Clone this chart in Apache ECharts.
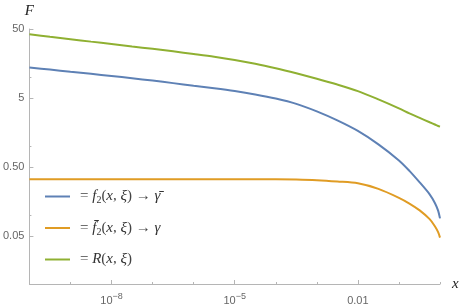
<!DOCTYPE html>
<html><head><meta charset="utf-8">
<script src="https://cdn.jsdelivr.net/npm/echarts@6/dist/echarts.min.js"></script>
<style>html,body{margin:0;padding:0;background:#fff}#c{width:463px;height:308px}</style>
</head><body><div id="c"></div>
<script>
// ---- data ----
const xValues = [1e-10, 3.16e-10, 1e-9, 3.16e-9, 1e-8, 3.16e-8, 1e-7, 3.16e-7, 1e-6, 3.16e-6, 1e-5, 3.16e-5,
  1e-4, 3.16e-4, 1e-3, 3.16e-3, 1e-2, 3.16e-2, 0.1, 0.18, 0.32, 0.56, 0.75, 0.9, 1];
const f2Values = [13.8, 12.9, 12.0, 11.2, 10.4, 9.66, 8.92, 8.20, 7.52, 6.92, 6.30, 5.62, 4.90, 4.10, 3.19, 2.36,
  1.66, 1.06, 0.620, 0.438, 0.298, 0.200, 0.150, 0.116, 0.0895];
const f2barValues = [0.330, 0.330, 0.330, 0.330, 0.330, 0.330, 0.330, 0.330, 0.330, 0.330, 0.330, 0.330, 0.330,
  0.328, 0.321, 0.307, 0.289, 0.240, 0.178, 0.147, 0.117, 0.0873, 0.069, 0.0565, 0.0471];
const rValues = [41.8, 38.5, 35.6, 32.8, 30.3, 27.9, 25.8, 23.7, 21.7, 19.8, 17.8, 15.7, 13.5, 11.4, 9.51, 7.82,
  6.28, 4.76, 3.53, 2.99, 2.57, 2.22, 2.06, 1.96, 1.92];
const xTickValues = [1e-8, 1e-5, 0.01];
const xTickLabels = ['10^-8', '10^-5', '0.01'];
const xMinorTicks = [1e-9, 1e-7, 1e-6, 1e-4, 1e-3, 0.1, 1];
const yTickValues = [0.05, 0.5, 5, 50];
const yTickLabels = ['0.05', '0.50', '5', '50'];
const yMinorTicks = [0.1, 1, 10];
const xRange = [1e-10, 1];
const yRange = [0.01, 50];
const seriesNames = ['f2', 'f2bar', 'R'];

const L = Math.log10;
const colors = {f2: '#5E81B5', f2bar: '#E09C24', R: '#8FB032'};
const legendText = {
  f2: '{n|= }{i|f}{s|2}{n|(}{i|x}{n|, }{i|ξ}{n|) → }{i|γ̄}',
  f2bar: '{n|= }{i|f̄}{s|2}{n|(}{i|x}{n|, }{i|ξ}{n|) → }{i|γ}',
  R: '{n|= }{i|R}{n|(}{i|x}{n|, }{i|ξ}{n|)}'
};
function nearestLabel(v, vals, labels) {
  let best = 0, d = Infinity;
  vals.forEach((t, i) => { const dd = Math.abs(L(t) - v); if (dd < d) { d = dd; best = i; } });
  return labels[best];
}
function xLabelRich(s) {
  const m = s.match(/^10\^(.+)$/);
  return m ? '{b|10}{sup|' + m[1].replace('-', '−') + '}' : '{b|' + s + '}';
}
const axisGray = '#b5b5b5';
const labelGray = '#666';

const mk = (name, vals) => ({
  name, type: 'line', symbol: 'none', showSymbol: false, smooth: 0.3,
  lineStyle: {width: 2, color: colors[name]}, itemStyle: {color: colors[name]},
  data: xValues.map((x, i) => [L(x), L(vals[i])])
});

const baseX = {type: 'value', position: 'bottom', min: L(xRange[0]), max: L(xRange[1]), splitLine: {show: false}};
const baseY = {type: 'value', position: 'left', min: L(yRange[0]), max: L(yRange[1]), splitLine: {show: false}};

const option = {
  animation: false,
  grid: {left: 29, right: 23, top: 29, bottom: 24},
  xAxis: [
    Object.assign({}, baseX, {
      name: 'x', nameLocation: 'end', nameGap: 12,
      nameTextStyle: {fontFamily: 'Liberation Serif', fontStyle: 'italic', fontSize: 15, color: '#222', verticalAlign: 'middle'},
      axisLine: {show: true, onZero: false, lineStyle: {color: axisGray, width: 1}},
      axisTick: {show: true, inside: true, length: 4, customValues: xTickValues.map(L), lineStyle: {color: axisGray}},
      axisLabel: {
        customValues: xTickValues.map(L), margin: 8, color: labelGray,
        formatter: v => xLabelRich(nearestLabel(v, xTickValues, xTickLabels)),
        rich: {
          b: {fontFamily: 'Liberation Sans', fontSize: 11, lineHeight: 14, color: labelGray, verticalAlign: 'bottom'},
          sup: {fontFamily: 'Liberation Sans', fontSize: 9, lineHeight: 9, color: labelGray, verticalAlign: 'top'}
        }
      }
    }),
    Object.assign({}, baseX, {
      axisLine: {show: false, onZero: false}, axisLabel: {show: false},
      axisTick: {show: true, inside: true, length: 2, customValues: xMinorTicks.map(L), lineStyle: {color: axisGray}}
    })
  ],
  yAxis: [
    Object.assign({}, baseY, {
      name: 'F', nameLocation: 'end', nameGap: 10,
      nameTextStyle: {fontFamily: 'Liberation Serif', fontStyle: 'italic', fontSize: 15, color: '#222', align: 'center'},
      axisLine: {show: true, onZero: false, lineStyle: {color: axisGray, width: 1}},
      axisTick: {show: true, inside: true, length: 4, customValues: yTickValues.map(L), lineStyle: {color: axisGray}},
      axisLabel: {
        customValues: yTickValues.map(L), margin: 5, color: labelGray,
        fontFamily: 'Liberation Sans', fontSize: 11,
        formatter: v => nearestLabel(v, yTickValues, yTickLabels)
      }
    }),
    Object.assign({}, baseY, {
      axisLine: {show: false, onZero: false}, axisLabel: {show: false},
      axisTick: {show: true, inside: true, length: 2, customValues: yMinorTicks.map(L), lineStyle: {color: axisGray}}
    })
  ],
  legend: {
    orient: 'vertical', left: 45, top: 189, padding: 0, itemWidth: 25, itemHeight: 2, itemGap: 15,
    icon: 'path://M0,0H25V2H0Z',
    data: seriesNames,
    formatter: name => legendText[name],
    textStyle: {
      padding: [0, 0, 0, 5],
      rich: {
        n: {fontFamily: 'Liberation Serif', fontSize: 15, lineHeight: 18, color: '#444'},
        i: {fontFamily: 'Liberation Serif', fontStyle: 'italic', fontSize: 15, lineHeight: 18, color: '#333'},
        s: {fontFamily: 'Liberation Serif', fontSize: 10, lineHeight: 10, verticalAlign: 'bottom', color: '#333'}
      }
    }
  },
  series: [mk('f2bar', f2barValues), mk('f2', f2Values), mk('R', rValues)]
};
echarts.init(document.getElementById('c')).setOption(option);
</script>
</body></html>
